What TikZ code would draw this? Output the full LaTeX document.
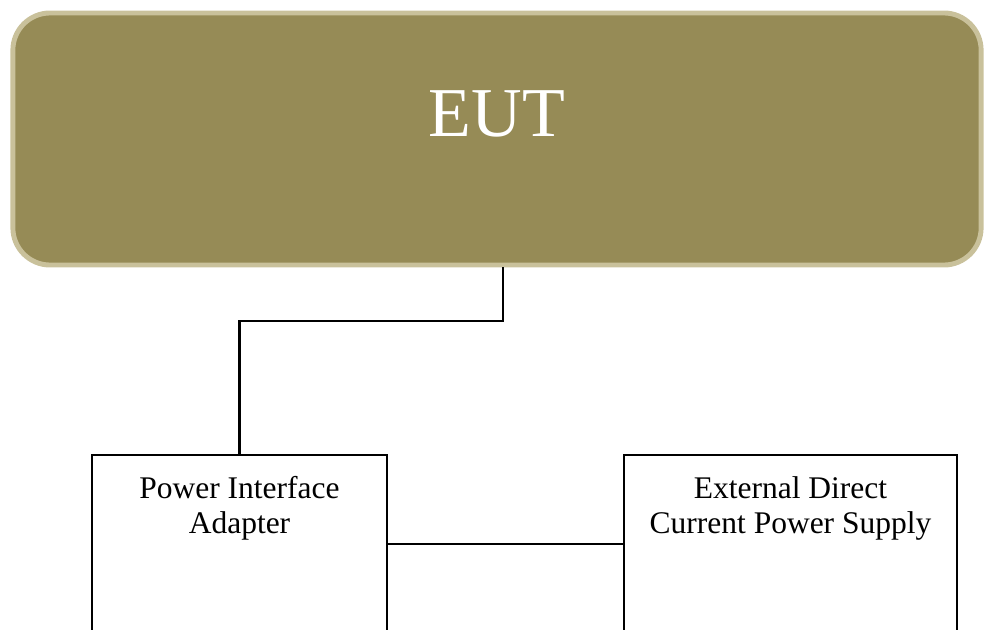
\documentclass[tikz,border=0pt]{standalone}
\usepackage{fontspec}
\setmainfont{Liberation Serif}
\usetikzlibrary{positioning}
\definecolor{eutfill}{HTML}{968B56}
\definecolor{eutrim}{HTML}{C9C19B}
\begin{document}
\begin{tikzpicture}[x=0.025cm,y=-0.025cm,auto]
        \useasboundingbox (0,0) rectangle (986,630);
        \clip (0,0) rectangle (986,630);
        \tikzset{unit/.style={draw,rectangle,line width=1.6pt,anchor=north,
        minimum height=5.5cm},
        caption/.style={inner sep=0pt,text centered,
        font=\fontsize{22.4}{24.9}\selectfont},
        wire/.style={line width=1.6pt}}
        \node[draw=eutrim,fill=eutfill,line width=3.5pt,rectangle,
        rounded corners=0.93cm,minimum width=24.2cm,minimum height=6.3cm,
        text=white,text height=1.2cm,text depth=1.3cm,
        font=\fontsize{49.8}{55}\selectfont,name=eut] at (497,139) {EUT};
        \node[unit,minimum width=7.375cm] (adapter) at (239.5,454) {};
        \node[unit,minimum width=8.325cm] (supply) at (790.5,454) {};
        \node[caption,below=0.55cm of adapter.north,align=center] (adapterlabel)
        {Power Interface\\Adapter};
        \node[caption,below=0.55cm of supply.north,align=center] (supplylabel)
        {External Direct\\Current Power Supply};
        \coordinate (jog) at (503,321);
        \coordinate (link) at (505,544);
        \draw [wire] (eut.south -| jog) -- (jog) -| (adapter.north);
        \draw [wire] (adapter.east |- link) -- (supply.west |- link);
    \end{tikzpicture}
\end{document}
